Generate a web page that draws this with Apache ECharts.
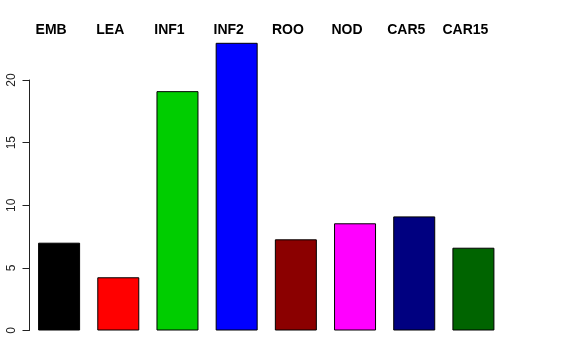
<!DOCTYPE html>
<html><head><meta charset="utf-8">
<script src="https://cdn.jsdelivr.net/npm/echarts@6/dist/echarts.min.js"></script>
<style>html,body{margin:0;padding:0;background:#fff}#c{width:576px;height:360px}</style>
</head><body><div id="c"></div>
<script>
var categories = ['EMB','LEA','INF1','INF2','ROO','NOD','CAR5','CAR15'];
var values = [7.01, 4.25, 19.11, 22.97, 7.28, 8.56, 9.11, 6.61];
var colors = ['#000000','#FF0000','#00CD00','#0000FF','#8B0000','#FF00FF','#000080','#006400'];
var yTicks = [0, 5, 10, 15, 20];

var chart = echarts.init(document.getElementById('c'), null, {renderer:'canvas'});
chart.setOption({
  animation: false,
  backgroundColor: '#fff',
  grid: {left: 29.5, top: 80, right: 73, bottom: 29.5, containLabel: false},
  xAxis: [{
    type: 'category', data: categories, position: 'bottom',
    axisLine: {show: false}, axisTick: {show: false}, axisLabel: {show: false}
  }, {
    type: 'category', data: categories, position: 'top',
    axisLine: {show: false}, axisTick: {show: false},
    axisLabel: {show: true, interval: 0, hideOverlap: false,
      fontFamily: 'Liberation Sans, Arial, sans-serif', fontWeight: 'bold',
      fontSize: 14, color: '#000', margin: 43, padding: [0, 16, 0, 0]}
  }],
  yAxis: {
    type: 'value', min: yTicks[0], max: yTicks[yTicks.length-1], interval: 5,
    splitLine: {show: false},
    axisLine: {show: true, lineStyle: {color: '#222', width: 1}},
    axisTick: {show: true, length: 7, lineStyle: {color: '#222'}},
    axisLabel: {rotate: 90, margin: 12, fontSize: 12, color: '#222',
      fontFamily: 'Liberation Sans, Arial, sans-serif'}
  },
  series: [{
    type: 'bar', xAxisIndex: 0, clip: false, barWidth: 42,
    data: values.map(function(v, i){ return {value: v, itemStyle: {color: colors[i]}}; }),
    itemStyle: {borderColor: '#000', borderWidth: 1}
  }]
});
</script></body></html>
